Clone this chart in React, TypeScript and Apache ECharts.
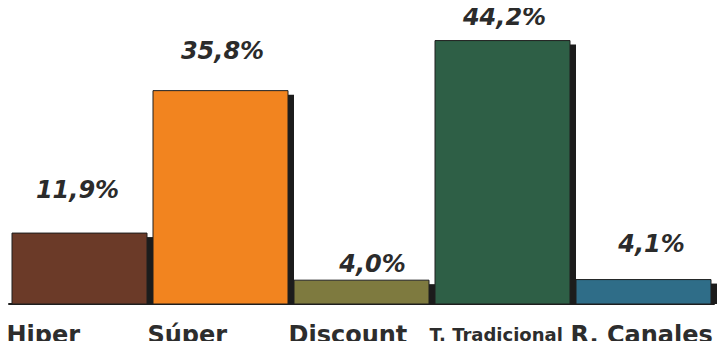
import React, { useEffect, useRef } from "react";
import * as echarts from "echarts";

const categories = ["Hiper", "Súper", "Discount", "T. Tradicional", "R. Canales"];
const shares = [11.9, 35.8, 4.0, 44.2, 4.1];
const barColors = ["#6b3a28", "#f2841f", "#7e7a3f", "#2e5f46", "#2f6d88"];
// label placement (style): px from bar top to label centre, and horizontal nudge
const labelRise = [43, 39.5, 16, 23.5, 35.5];
const labelShift = [-2, 2, 11, 2, 8];

const fmt = (v: number) => v.toFixed(1).replace(".", ",") + "%";

export default function App() {
  const ref = useRef<HTMLDivElement>(null);
  useEffect(() => {
    if (!ref.current) return;
    const chart = echarts.init(ref.current, null, { renderer: "svg" });
    chart.setOption({
      animation: false,
      backgroundColor: "#ffffff",
      grid: { left: 9, right: 13, top: 6, bottom: 45, containLabel: false },
      xAxis: {
        type: "category",
        data: categories,
        axisTick: { show: false },
        axisLine: { show: true, lineStyle: { color: "#1e1e1e", width: 2 } },
        axisLabel: {
          margin: 19,
          interval: 0,
          formatter: (v: string) => (v === "T. Tradicional" ? `{s|${v}}` : `{b|${v}}`),
          rich: {
            b: {
              width: 146,
              align: "left",
              fontSize: 24,
              fontWeight: "bold",
              fontFamily: "DejaVu Sans",
              color: "#2d2d2d",
            },
            s: {
              width: 146,
              align: "left",
              fontSize: 18,
              fontWeight: "bold",
              fontFamily: "DejaVu Sans",
              color: "#2d2d2d",
              padding: [2, 0, 0, 0],
            },
          },
        },
      },
      yAxis: { type: "value", min: 0, max: 50, show: false },
      series: [
        {
          type: "custom",
          data: shares.map((v, i) => [i, v]),
          encode: { x: 0, y: 1 },
          renderItem: (params: any, api: any) => {
            const i = params.dataIndex;
            const v = api.value(1);
            const top = api.coord([api.value(0), v]);
            const base = api.coord([api.value(0), 0]);
            const band = api.size([1, 0])[0];
            const w = band - 6;
            const x = top[0] - band / 2 + 3;
            const h = base[1] - top[1];
            return {
              type: "group",
              children: [
                {
                  type: "rect",
                  shape: { x: x + w - 1, y: top[1] + 4, width: 7, height: h - 4 },
                  style: { fill: "#1c1c1c" },
                },
                {
                  type: "rect",
                  shape: { x, y: top[1], width: w, height: h },
                  style: { fill: barColors[i], stroke: "#1e1e1e", lineWidth: 1 },
                },
                {
                  type: "text",
                  x: top[0] + labelShift[i],
                  y: top[1] - labelRise[i],
                  style: {
                    text: fmt(v),
                    fill: "#2b2b2b",
                    fontSize: 24,
                    fontWeight: "bold",
                    fontStyle: "italic",
                    fontFamily: "DejaVu Sans",
                    align: "center",
                    verticalAlign: "middle",
                  },
                },
              ],
            };
          },
        },
      ],
    });
    return () => chart.dispose();
  }, []);
  return <div ref={ref} style={{ width: 727, height: 349, margin: -8 }} />;
}
